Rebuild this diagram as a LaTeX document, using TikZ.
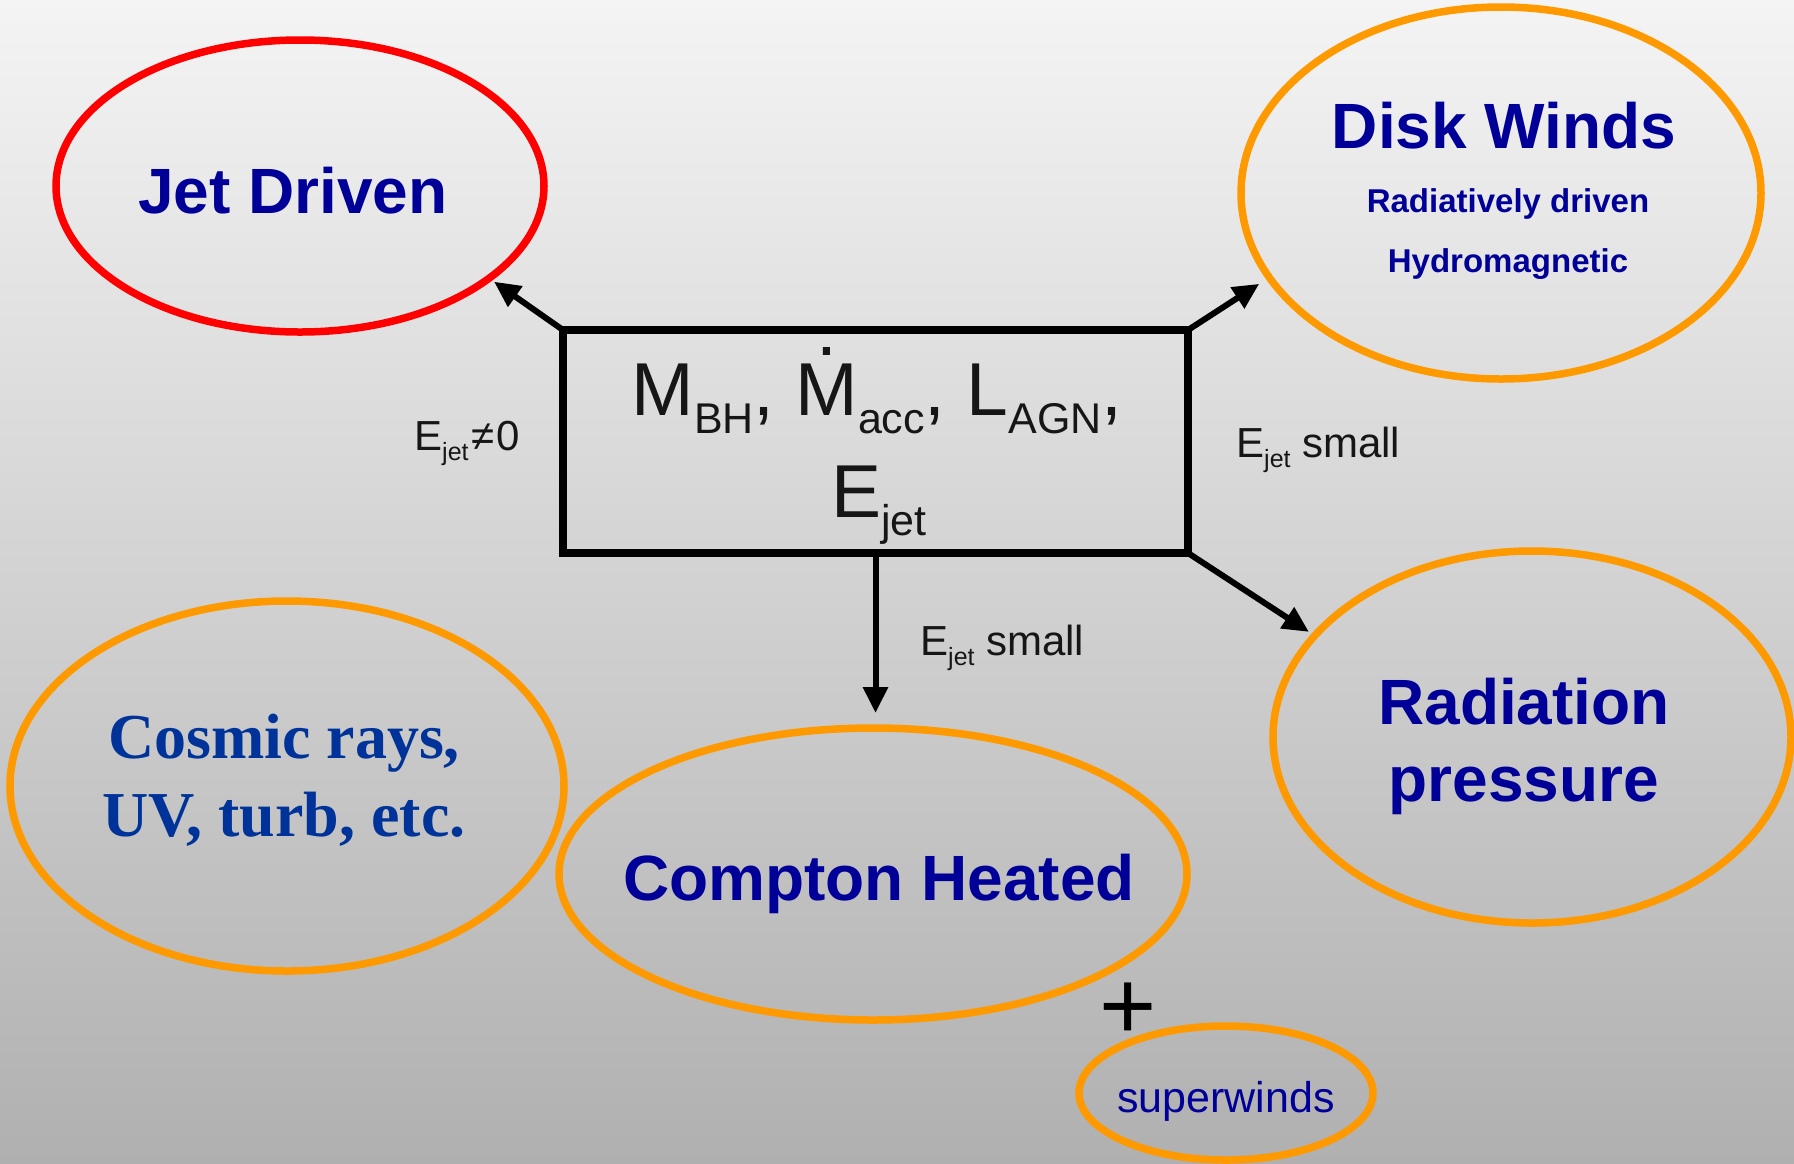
\documentclass[tikz,border=0pt]{standalone}
\usepackage{fontspec}
\setmainfont{Liberation Sans}
\newfontfamily\crfont{Liberation Serif}
\usetikzlibrary{arrows.meta,shapes.geometric}
\definecolor{ovorange}{RGB}{255,153,0}
\definecolor{ovred}{RGB}{255,0,0}
\definecolor{dkblue}{RGB}{0,0,153}
\definecolor{crblue}{RGB}{0,51,153}
\definecolor{txtblack}{RGB}{22,22,22}
\definecolor{bgtop}{RGB}{244,244,244}
\definecolor{bgbot}{RGB}{176,176,176}
\newcommand\lsub[3]{\raisebox{-#1pt}{\fontsize{#2}{#2}\selectfont #3}}
\newcommand\dotM{\ooalign{M\cr\hidewidth\raisebox{0.79em}{.}\hidewidth\cr}}
\begin{document}
\begin{tikzpicture}[x=1pt,y=-1pt,
  oval/.style={ellipse, draw=ovorange, line width=7.5pt, inner sep=0pt, outer sep=0pt},
  bigtxt/.style={font=\fontsize{64}{64}\selectfont\bfseries, text=dkblue, anchor=base, inner sep=0pt},
  midtxt/.style={font=\fontsize{33}{33}\selectfont\bfseries, text=dkblue, anchor=base, inner sep=0pt},
  crtxt/.style={font=\crfont\fontsize{64}{64}\selectfont\bfseries, text=crblue, anchor=base, inner sep=0pt},
  boxtxt/.style={font=\fontsize{75}{75}\selectfont, text=txtblack, anchor=base, inner sep=0pt},
  lbl/.style={font=\fontsize{42}{42}\selectfont, text=txtblack, anchor=base west, inner sep=0pt},
  conn/.style={line width=6pt, draw=black, -{Triangle[length=26pt,width=24pt]}}
]
\shade[top color=bgtop, bottom color=bgbot] (0,0) rectangle (1794,1163);
\useasboundingbox (0,0) rectangle (1794,1163);

% ellipses
\node[oval, draw=ovred, minimum width=488pt, minimum height=292pt] (jet) at (300,186) {};
\node[oval, minimum width=520pt, minimum height=372pt] (disk) at (1501,193) {};
\node[oval, minimum width=518pt, minimum height=372pt] (rad) at (1532,737) {};
\node[oval, minimum width=628pt, minimum height=292pt] (compton) at (873,874) {};
\node[oval, minimum width=554pt, minimum height=370pt] (cosmic) at (287,786) {};
\node[oval, minimum width=294pt, minimum height=134pt] (superw) at (1226,1093) {};

% central box
\node[draw=black, line width=8pt, minimum width=625pt, minimum height=223pt, inner sep=0pt, outer sep=0pt] (box) at (875.5,441.5) {};
\node[boxtxt] (tm) at (877,415) {M\lsub{18}{43}{BH}, \dotM\lsub{18}{43}{acc}, L\lsub{18}{43}{AGN},};
\node[boxtxt] (te) at (879,517) {E\lsub{18}{43}{jet}};

% connectors
\draw[conn, shorten >=6pt] (box.north west) -- (jet.-26.8);
\draw[conn, shorten >=12pt] (box.north east) -- (disk.200.4);
\draw[conn, shorten >=7pt] (box.south east) -- (rad.155.1);
\draw[conn, shorten >=15pt] (box.south) -- (box.south |- compton.north);

% connector labels
\node[lbl] (l1) at (414,450) {E\lsub{10}{25}{jet}\hspace{3pt}≠\hspace{2pt}0};
\node[lbl] (l2) at (1236,457) {E\lsub{10}{25}{jet} small};
\node[lbl] (l3) at (920,655) {E\lsub{10}{25}{jet} small};

% ellipse texts
\node[bigtxt] (tjet) at (293,213) {Jet Driven};
\node[bigtxt] (tdisk) at (1504,148) {Disk Winds};
\node[midtxt] (tdisk2) at (1508,212) {Radiatively driven};
\node[midtxt] (tdisk3) at (1508,272) {Hydromagnetic};
\node[bigtxt] (trad1) at (1524,724) {Radiation};
\node[bigtxt] (trad2) at (1524,801) {pressure};
\node[bigtxt] (tcomp) at (879,900) {Compton Heated};
\node[crtxt] (tcr1) at (284,758) {Cosmic rays,};
\node[crtxt] (tcr2) at (284,836) {UV, turb, etc.};
\node[font=\fontsize{43}{43}\selectfont, text=dkblue, anchor=base, inner sep=0pt] (tsw) at (1226,1112) {superwinds};
\node[font=\fontsize{98}{98}\selectfont, text=black, anchor=base, inner sep=0pt] (plus) at (1128,1039) {+};
\end{tikzpicture}
\end{document}
